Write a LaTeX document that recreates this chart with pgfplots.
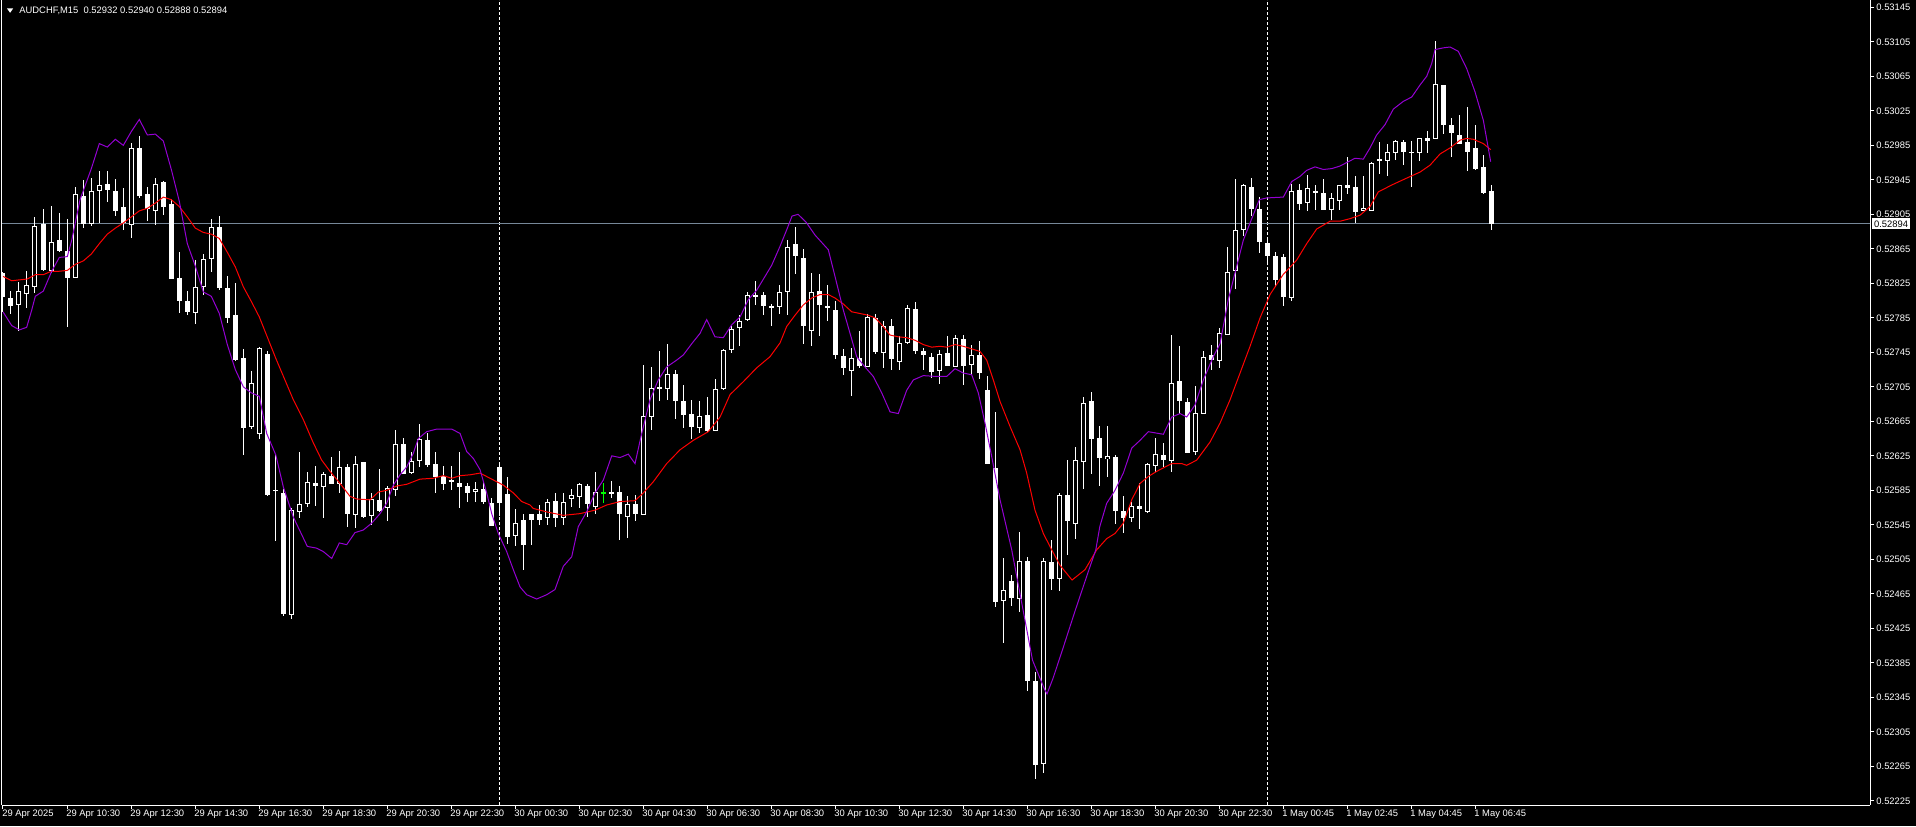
\documentclass[border=0pt]{standalone}
\usepackage{fontspec}
\setmainfont{Liberation Sans}
\usepackage{pgfplots}
\usepackage{pgfplotstable}
\pgfplotsset{compat=1.18}
\definecolor{mtpurple}{RGB}{148,0,211}
\definecolor{bidgray}{RGB}{119,136,153}
\definecolor{dojigreen}{RGB}{0,255,0}
\newcommand{\mtfont}{\fontsize{4.7}{5.2}\selectfont}

\pgfplotstableread{
i o h l c
2 0.52801 0.52827 0.52771 0.52815
3 0.52815 0.52841 0.52798 0.52824
4 0.52823 0.52902 0.52814 0.52892
6 0.52841 0.52916 0.52839 0.52874
9 0.52832 0.52937 0.52831 0.52929
11 0.52895 0.52947 0.52891 0.52933
12 0.52933 0.52956 0.52895 0.52939
16 0.52894 0.52989 0.52879 0.52982
19 0.52911 0.52948 0.52894 0.52941
24 0.52792 0.52854 0.52779 0.52821
25 0.52822 0.52859 0.52812 0.52853
26 0.52854 0.52900 0.52839 0.52890
31 0.52660 0.52724 0.52657 0.52709
32 0.52651 0.52752 0.52646 0.52750
36 0.52441 0.52564 0.52435 0.52562
37 0.52561 0.52630 0.52554 0.52569
38 0.52570 0.52607 0.52566 0.52594
40 0.52590 0.52607 0.52554 0.52604
42 0.52594 0.52631 0.52582 0.52612
44 0.52558 0.52626 0.52542 0.52616
46 0.52556 0.52583 0.52546 0.52574
48 0.52565 0.52591 0.52551 0.52587
49 0.52586 0.52656 0.52580 0.52639
51 0.52607 0.52631 0.52605 0.52620
52 0.52621 0.52662 0.52612 0.52645
59 0.52584 0.52595 0.52572 0.52587
64 0.52535 0.52564 0.52522 0.52549
68 0.52554 0.52576 0.52545 0.52572
70 0.52553 0.52582 0.52545 0.52571
71 0.52576 0.52587 0.52566 0.52579
72 0.52579 0.52594 0.52566 0.52593
74 0.52567 0.52607 0.52558 0.52583
78 0.52556 0.52580 0.52531 0.52570
80 0.52558 0.52731 0.52558 0.52672
81 0.52672 0.52729 0.52656 0.52705
83 0.52703 0.52755 0.52690 0.52720
87 0.52659 0.52689 0.52652 0.52672
89 0.52655 0.52715 0.52655 0.52703
90 0.52703 0.52750 0.52703 0.52748
91 0.52750 0.52776 0.52745 0.52773
92 0.52775 0.52788 0.52752 0.52782
93 0.52783 0.52815 0.52782 0.52811
94 0.52811 0.52828 0.52800 0.52812
97 0.52799 0.52824 0.52790 0.52815
98 0.52816 0.52876 0.52789 0.52868
101 0.52771 0.52839 0.52754 0.52815
106 0.52726 0.52751 0.52696 0.52739
108 0.52730 0.52791 0.52729 0.52786
110 0.52746 0.52783 0.52728 0.52776
112 0.52736 0.52764 0.52725 0.52757
113 0.52757 0.52801 0.52756 0.52796
117 0.52725 0.52748 0.52709 0.52743
119 0.52730 0.52766 0.52730 0.52762
121 0.52731 0.52753 0.52719 0.52741
125 0.52457 0.52506 0.52408 0.52469
127 0.52461 0.52537 0.52444 0.52504
130 0.52268 0.52507 0.52258 0.52502
132 0.52483 0.52583 0.52469 0.52580
134 0.52547 0.52636 0.52530 0.52620
135 0.52619 0.52694 0.52587 0.52687
138 0.52622 0.52661 0.52602 0.52625
141 0.52554 0.52573 0.52549 0.52567
143 0.52561 0.52618 0.52560 0.52616
144 0.52614 0.52647 0.52607 0.52627
146 0.52621 0.52766 0.52607 0.52710
149 0.52630 0.52706 0.52627 0.52675
150 0.52675 0.52747 0.52674 0.52740
152 0.52737 0.52774 0.52727 0.52768
153 0.52767 0.52868 0.52767 0.52839
154 0.52840 0.52947 0.52820 0.52887
155 0.52887 0.52941 0.52880 0.52939
161 0.52810 0.52941 0.52805 0.52932
163 0.52919 0.52952 0.52910 0.52935
166 0.52912 0.52931 0.52900 0.52925
167 0.52922 0.52939 0.52911 0.52939
170 0.52911 0.52950 0.52910 0.52913
171 0.52911 0.52966 0.52909 0.52966
173 0.52969 0.52987 0.52951 0.52978
174 0.52978 0.52993 0.52970 0.52991
177 0.52977 0.52994 0.52968 0.52993
179 0.52993 0.53106 0.52993 0.53056
}\bull

\pgfplotstableread{
i o h l c
0 0.52837 0.52839 0.52792 0.52810
1 0.52809 0.52817 0.52791 0.52800
5 0.52895 0.52912 0.52840 0.52841
7 0.52876 0.52908 0.52862 0.52863
8 0.52864 0.52900 0.52774 0.52833
10 0.52927 0.52946 0.52891 0.52894
13 0.52941 0.52956 0.52920 0.52934
14 0.52933 0.52947 0.52904 0.52910
15 0.52913 0.52936 0.52888 0.52895
17 0.52982 0.52996 0.52925 0.52927
18 0.52929 0.52937 0.52898 0.52912
20 0.52943 0.52944 0.52905 0.52915
21 0.52917 0.52923 0.52830 0.52830
22 0.52832 0.52861 0.52791 0.52806
23 0.52806 0.52816 0.52788 0.52793
27 0.52890 0.52903 0.52817 0.52820
28 0.52820 0.52834 0.52779 0.52785
29 0.52788 0.52827 0.52736 0.52736
30 0.52739 0.52749 0.52626 0.52658
33 0.52743 0.52748 0.52580 0.52580
34 0.52586 0.52628 0.52527 0.52585
35 0.52583 0.52587 0.52440 0.52443
39 0.52595 0.52613 0.52566 0.52592
41 0.52603 0.52624 0.52593 0.52594
43 0.52613 0.52616 0.52544 0.52558
45 0.52618 0.52618 0.52553 0.52555
47 0.52574 0.52610 0.52560 0.52561
50 0.52640 0.52645 0.52604 0.52605
53 0.52645 0.52653 0.52614 0.52616
54 0.52617 0.52631 0.52583 0.52601
55 0.52602 0.52614 0.52586 0.52593
56 0.52596 0.52614 0.52586 0.52595
57 0.52593 0.52631 0.52566 0.52589
58 0.52591 0.52594 0.52572 0.52583
60 0.52586 0.52595 0.52569 0.52572
61 0.52572 0.52578 0.52545 0.52545
62 0.52612 0.52616 0.52556 0.52571
63 0.52581 0.52601 0.52523 0.52531
65 0.52551 0.52558 0.52493 0.52522
66 0.52558 0.52560 0.52524 0.52551
67 0.52558 0.52568 0.52545 0.52552
69 0.52574 0.52582 0.52543 0.52554
73 0.52591 0.52592 0.52554 0.52570
76 0.52583 0.52596 0.52577 0.52581
77 0.52583 0.52590 0.52528 0.52558
79 0.52570 0.52581 0.52551 0.52558
82 0.52705 0.52748 0.52690 0.52703
84 0.52720 0.52725 0.52668 0.52688
85 0.52688 0.52708 0.52658 0.52672
86 0.52673 0.52690 0.52645 0.52659
88 0.52673 0.52694 0.52653 0.52654
95 0.52811 0.52815 0.52788 0.52799
96 0.52800 0.52801 0.52775 0.52798
99 0.52872 0.52891 0.52837 0.52858
100 0.52855 0.52866 0.52756 0.52776
102 0.52817 0.52837 0.52765 0.52800
103 0.52799 0.52823 0.52782 0.52798
104 0.52795 0.52806 0.52738 0.52743
105 0.52742 0.52750 0.52720 0.52728
107 0.52739 0.52771 0.52728 0.52730
109 0.52786 0.52790 0.52744 0.52746
111 0.52775 0.52784 0.52725 0.52737
114 0.52796 0.52804 0.52744 0.52747
115 0.52746 0.52751 0.52725 0.52741
116 0.52741 0.52745 0.52716 0.52723
118 0.52745 0.52764 0.52730 0.52730
120 0.52762 0.52765 0.52707 0.52730
122 0.52742 0.52759 0.52715 0.52721
123 0.52702 0.52718 0.52616 0.52616
124 0.52611 0.52677 0.52451 0.52456
126 0.52480 0.52487 0.52451 0.52461
128 0.52504 0.52510 0.52354 0.52365
129 0.52365 0.52374 0.52250 0.52267
131 0.52502 0.52527 0.52469 0.52483
133 0.52581 0.52620 0.52510 0.52551
136 0.52689 0.52700 0.52605 0.52645
137 0.52646 0.52659 0.52590 0.52622
139 0.52624 0.52627 0.52547 0.52561
140 0.52562 0.52580 0.52536 0.52554
142 0.52567 0.52594 0.52540 0.52563
145 0.52626 0.52640 0.52612 0.52620
147 0.52712 0.52752 0.52674 0.52688
148 0.52689 0.52692 0.52628 0.52630
151 0.52743 0.52754 0.52726 0.52737
156 0.52938 0.52949 0.52904 0.52912
157 0.52912 0.52927 0.52862 0.52873
158 0.52873 0.52880 0.52850 0.52858
159 0.52858 0.52862 0.52822 0.52830
160 0.52856 0.52860 0.52800 0.52810
162 0.52934 0.52941 0.52910 0.52918
164 0.52934 0.52940 0.52911 0.52931
165 0.52931 0.52947 0.52910 0.52911
168 0.52940 0.52971 0.52929 0.52937
169 0.52938 0.52950 0.52895 0.52909
172 0.52969 0.52988 0.52951 0.52968
175 0.52990 0.52992 0.52963 0.52978
176 0.52978 0.52991 0.52938 0.52977
178 0.52995 0.53002 0.52977 0.52992
180 0.53056 0.53057 0.53000 0.53009
181 0.53009 0.53017 0.52971 0.53000
182 0.52999 0.53021 0.52988 0.52988
183 0.52990 0.53030 0.52956 0.52979
184 0.52982 0.53009 0.52957 0.52958
185 0.52961 0.52975 0.52930 0.52931
186 0.52932 0.52940 0.52888 0.52894
}\bear

\pgfplotstableread{
i o h l c
75 0.52583 0.52594 0.52571 0.52583
}\doji

\pgfplotstableread{
i p
0 0.52792
1.09 0.52776
2.04 0.52771
2.96 0.52774
3.59 0.52794
4.04 0.52810
5.04 0.52816
6.09 0.52839
7.04 0.52855
8.04 0.52856
8.59 0.52875
9.63 0.52922
11.04 0.52958
12.04 0.52987
13.04 0.52983
14.04 0.52992
15.04 0.52985
16.04 0.53001
17.04 0.53015
18.04 0.52997
19.04 0.52998
20.04 0.52990
21.04 0.52957
22.04 0.52920
23.04 0.52871
24.04 0.52845
25.04 0.52815
26.04 0.52810
27.04 0.52790
28.04 0.52754
29.04 0.52725
30.04 0.52705
31.04 0.52698
32.04 0.52694
32.96 0.52651
34.1 0.52626
35.04 0.52589
36.29 0.52554
38.04 0.52520
39.2 0.52518
40.04 0.52514
41.09 0.52506
42.04 0.52524
42.96 0.52522
44.0 0.52536
45.04 0.52539
46.09 0.52547
47.13 0.52558
47.96 0.52570
48.79 0.52591
49.63 0.52603
50.46 0.52612
51.29 0.52628
51.91 0.52645
52.96 0.52653
54.21 0.52656
56.09 0.52656
57.13 0.52651
57.96 0.52630
58.79 0.52622
59.63 0.52609
60.46 0.52582
61.09 0.52558
61.91 0.52535
62.96 0.52514
63.79 0.52493
64.63 0.52473
65.46 0.52464
66.71 0.52459
67.96 0.52464
69.0 0.52470
70.04 0.52497
71.09 0.52508
71.91 0.52543
72.96 0.52560
74.0 0.52582
75.04 0.52597
76.09 0.52625
77.13 0.52623
78.16 0.52627
79.0 0.52616
79.84 0.52651
80.88 0.52690
81.91 0.52713
82.96 0.52728
84.21 0.52736
85.04 0.52742
86.09 0.52755
87.13 0.52767
87.96 0.52783
89.0 0.52763
90.04 0.52762
91.09 0.52777
92.13 0.52786
93.16 0.52806
94.21 0.52817
95.25 0.52833
96.09 0.52846
97.13 0.52868
97.96 0.52887
98.63 0.52903
99.38 0.52905
100.38 0.52896
101.5 0.52881
103.16 0.52864
104.0 0.52833
105.04 0.52794
105.88 0.52767
106.71 0.52740
107.75 0.52728
108.79 0.52717
109.84 0.52698
110.88 0.52676
111.91 0.52674
112.96 0.52701
113.79 0.52713
115.04 0.52718
116.71 0.52717
117.96 0.52717
119.0 0.52726
120.04 0.52721
121.09 0.52719
121.91 0.52698
122.75 0.52663
123.59 0.52624
124.63 0.52574
126.09 0.52516
128.69 0.52388
130.21 0.52354
130.5 0.52349
131.25 0.52367
132.5 0.52402
134.0 0.52445
135.56 0.52488
136.6 0.52516
137.1 0.52543
137.96 0.52570
139.0 0.52585
140.04 0.52605
141.09 0.52634
142.13 0.52643
143.16 0.52653
145.04 0.52650
146.09 0.52670
147.13 0.52674
147.96 0.52670
149.0 0.52684
150.04 0.52713
151.29 0.52740
152.13 0.52755
153.16 0.52806
154.0 0.52837
155.04 0.52875
155.88 0.52895
157.04 0.52922
157.96 0.52924
160.04 0.52925
161.09 0.52943
162.13 0.52949
162.96 0.52956
164.0 0.52960
165.04 0.52957
166.09 0.52958
167.13 0.52961
168.16 0.52966
169.0 0.52970
170.04 0.52969
170.88 0.52982
171.71 0.52997
172.75 0.53009
173.79 0.53027
175.04 0.53036
176.09 0.53041
177.13 0.53055
177.96 0.53065
178.59 0.53080
179.0 0.53096
180.04 0.53098
180.88 0.53099
181.91 0.53094
182.96 0.53074
184.0 0.53047
185.04 0.53014
185.96 0.52966
}\purp

\pgfplotstableread{
i p
0 0.52833
1.09 0.52828
2.04 0.52829
3.04 0.52830
4.04 0.52835
5.04 0.52835
6.04 0.52839
7.04 0.52839
8.04 0.52840
9.04 0.52847
10.04 0.52851
11.04 0.52859
12.04 0.52871
13.04 0.52882
14.04 0.52889
15.04 0.52895
16.04 0.52902
17.04 0.52909
18.04 0.52912
19.04 0.52918
20.04 0.52925
21.04 0.52922
22.04 0.52914
23.04 0.52902
24.04 0.52889
25.04 0.52884
26.04 0.52882
27.04 0.52877
28.04 0.52861
29.04 0.52844
30.04 0.52821
31.04 0.52804
32.04 0.52786
34.1 0.52738
36.29 0.52690
37.54 0.52667
38.79 0.52640
39.84 0.52620
40.88 0.52607
42.13 0.52593
43.38 0.52578
44.21 0.52575
45.88 0.52574
46.91 0.52583
47.96 0.52585
49.21 0.52590
50.46 0.52592
52.13 0.52598
53.79 0.52599
55.04 0.52602
56.09 0.52599
57.13 0.52602
58.38 0.52603
59.63 0.52605
60.88 0.52599
62.54 0.52591
63.79 0.52582
64.84 0.52572
65.88 0.52568
66.29 0.52564
67.96 0.52560
70.04 0.52556
72.13 0.52558
74.0 0.52562
75.46 0.52568
77.13 0.52572
79.0 0.52573
80.04 0.52582
81.29 0.52595
82.96 0.52616
84.63 0.52632
86.29 0.52643
88.16 0.52653
89.63 0.52670
90.88 0.52696
92.54 0.52711
94.21 0.52727
95.88 0.52740
97.13 0.52756
97.96 0.52775
99.0 0.52788
100.04 0.52800
101.09 0.52808
102.13 0.52812
103.16 0.52812
104.0 0.52808
105.04 0.52801
106.09 0.52792
107.13 0.52790
108.16 0.52788
109.0 0.52785
109.84 0.52777
110.88 0.52765
111.91 0.52763
112.96 0.52762
114.0 0.52759
115.04 0.52754
116.09 0.52751
117.13 0.52752
117.96 0.52751
119.0 0.52754
120.04 0.52752
121.09 0.52749
122.13 0.52746
122.96 0.52736
123.79 0.52713
124.63 0.52688
125.88 0.52659
127.13 0.52632
127.96 0.52605
129.0 0.52562
130.04 0.52535
131.09 0.52516
132.13 0.52498
133.63 0.52481
135.25 0.52493
136.71 0.52516
137.96 0.52529
139.0 0.52535
140.04 0.52547
141.09 0.52574
142.13 0.52593
143.16 0.52601
144.21 0.52607
145.25 0.52612
146.09 0.52616
147.34 0.52616
147.96 0.52614
149.21 0.52620
150.88 0.52641
152.13 0.52663
153.38 0.52690
154.63 0.52721
155.88 0.52752
157.13 0.52785
158.38 0.52812
160.0 0.52835
161.71 0.52852
162.96 0.52871
164.21 0.52888
165.88 0.52897
167.13 0.52897
168.38 0.52900
169.63 0.52904
170.88 0.52914
171.91 0.52931
173.59 0.52939
175.46 0.52947
177.13 0.52954
178.38 0.52962
179.63 0.52975
180.88 0.52982
182.13 0.52991
182.96 0.52993
183.79 0.52992
185.04 0.52987
185.96 0.52980
}\redma

\pgfplotsset{
  wick/.style={draw=none, mark=none, forget plot,
    error bars/.cd, y dir=both, y explicit, error mark=none,
    error bar style={draw=#1, line width=0.5pt}},
  body/.style 2 args={draw=none, mark=none, forget plot,
    error bars/.cd, y dir=both, y explicit, error mark=none,
    error bar style={draw=#1, line width=#2}},
}

\begin{document}
\begin{tikzpicture}
\useasboundingbox (-1pt,-10.5pt) rectangle (957pt,402.5pt);
\fill[black] (-1pt,-10.5pt) rectangle (957pt,402.5pt);
\begin{axis}[
  at={(0pt,0pt)}, anchor=south west,
  width=934pt, height=402.5pt, scale only axis,
  xmin=-0.125, xmax=233.375, ymin=0.5222018, ymax=0.531535,
  axis x line*=bottom, axis y line*=right,
  axis line style={white, line width=0.5pt},
  tick style={white, line width=0.5pt},
  major tick length=2pt, tick align=outside,
  scaled x ticks=false, scaled y ticks=false,
  xtick={0,8,...,184},
  xticklabels={29 Apr 2025, 29 Apr 10:30, 29 Apr 12:30, 29 Apr 14:30, 29 Apr 16:30, 29 Apr 18:30, 29 Apr 20:30, 29 Apr 22:30, 30 Apr 00:30, 30 Apr 02:30, 30 Apr 04:30, 30 Apr 06:30, 30 Apr 08:30, 30 Apr 10:30, 30 Apr 12:30, 30 Apr 14:30, 30 Apr 16:30, 30 Apr 18:30, 30 Apr 20:30, 30 Apr 22:30, 1 May 00:45, 1 May 02:45, 1 May 04:45, 1 May 06:45},
  ytick={0.52225,0.52265,0.52305,0.52345,0.52385,0.52425,0.52465,0.52505,0.52545,0.52585,0.52625,0.52665,0.52705,0.52745,0.52785,0.52825,0.52865,0.52905,0.52945,0.52985,0.53025,0.53065,0.53105,0.53145},
  yticklabels={0.52225,0.52265,0.52305,0.52345,0.52385,0.52425,0.52465,0.52505,0.52545,0.52585,0.52625,0.52665,0.52705,0.52745,0.52785,0.52825,0.52865,0.52905,0.52945,0.52985,0.53025,0.53065,0.53105,0.53145},
  xticklabel style={anchor=north west, inner sep=0pt, font=\mtfont, text=white, xshift=-0.5pt, yshift=-0.3pt},
  yticklabel style={anchor=west, inner sep=0pt, font=\mtfont, text=white, xshift=1pt},
  axis background/.style={fill=black},
]
% day separators and bid line
\addplot[white, line width=0.5pt, dash pattern=on 1.5pt off 1pt, mark=none, forget plot] coordinates {(62,0.5222018) (62,0.531535)};
\addplot[white, line width=0.5pt, dash pattern=on 1.5pt off 1pt, mark=none, forget plot] coordinates {(158,0.5222018) (158,0.531535)};
\addplot[bidgray, line width=0.5pt, mark=none, forget plot] coordinates {(-0.125,0.52894) (233.375,0.52894)};
% wicks
\addplot[wick=white] table[x=i, y expr={(\thisrow{h}+\thisrow{l})/2}, y error expr={(\thisrow{h}-\thisrow{l})/2}] {\bull};
\addplot[wick=white] table[x=i, y expr={(\thisrow{h}+\thisrow{l})/2}, y error expr={(\thisrow{h}-\thisrow{l})/2}] {\bear};
\addplot[wick=dojigreen] table[x=i, y expr={(\thisrow{h}+\thisrow{l})/2}, y error expr={(\thisrow{h}-\thisrow{l})/2}] {\doji};
% bodies
\addplot[body={white}{2.5pt}] table[x=i, y expr={(\thisrow{o}+\thisrow{c})/2}, y error expr={max((\thisrow{o}-\thisrow{c})/2,0.000006)}] {\bear};
\addplot[body={white}{2.5pt}] table[x=i, y expr={(\thisrow{o}+\thisrow{c})/2}, y error expr={(\thisrow{c}-\thisrow{o})/2+0.0000058}] {\bull};
\addplot[body={black}{1.5pt}] table[x=i, y expr={(\thisrow{o}+\thisrow{c})/2}, y error expr={max((\thisrow{c}-\thisrow{o})/2-0.0000058,0)}] {\bull};
\addplot[body={dojigreen}{2.5pt}] table[x=i, y expr={(\thisrow{o}+\thisrow{c})/2}, y error expr={0.000005}] {\doji};
% indicator lines
\addplot[red, line width=0.5pt, mark=none, forget plot] table[x=i, y=p] {\redma};
\addplot[mtpurple, line width=0.5pt, mark=none, forget plot] table[x=i, y=p] {\purp};
\coordinate (bid) at (axis cs:233.375,0.52894);
\end{axis}
\draw[white, line width=0.5pt] (0,0) -- (0,402.5pt);
\node[fill=white, text=black, anchor=west, inner xsep=1pt, inner ysep=0pt, minimum height=5.5pt, font=\mtfont, xshift=0.8pt] at (bid) {0.52894};
\fill[white] (2.5pt,398.3pt) -- (5.6pt,398.3pt) -- (4.05pt,396.1pt) -- cycle;
\node[anchor=west, inner sep=0pt, text=white, font=\mtfont] at (8.5pt,397pt) {AUDCHF,M15\ \ 0.52932 0.52940 0.52888 0.52894};
\end{tikzpicture}
\end{document}
